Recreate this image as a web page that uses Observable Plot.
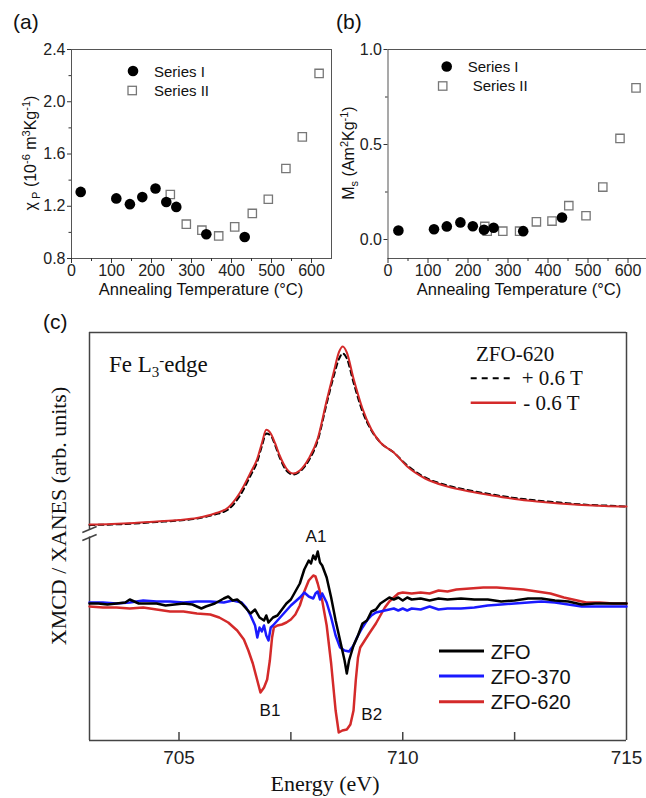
<!DOCTYPE html>
<html><head><meta charset="utf-8">
<script src="https://cdn.jsdelivr.net/npm/d3@7"></script>
<script src="https://cdn.jsdelivr.net/npm/@observablehq/plot@0.6"></script>
<style>
body{margin:0;background:#fff}
#fig{position:relative;width:646px;height:798px;overflow:hidden;background:#fff}
.panel{position:absolute}
#overlay{position:absolute;left:0;top:0;pointer-events:none}
</style></head><body>
<div id="fig">
 <div id="pa" class="panel" style="left:0;top:0;width:340px;height:300px"></div>
 <div id="pb" class="panel" style="left:320px;top:0;width:330px;height:300px"></div>
 <div id="pc" class="panel" style="left:0;top:310px;width:646px;height:488px"></div>
 <svg id="overlay" width="646" height="798" font-family="Liberation Sans, Arial, sans-serif" fill="#111">
  <!-- panel letters -->
  <text x="13" y="29" font-size="21">(a)</text>
  <text x="336" y="29" font-size="21">(b)</text>
  <text x="43" y="329" font-size="21">(c)</text>
  <!-- panel a labels -->
  <text transform="translate(36,153) rotate(-90)" text-anchor="middle" font-size="16">χ<tspan dy="4" font-size="11"> P</tspan><tspan dy="-4"> (10</tspan><tspan dy="-6" font-size="11">-6</tspan><tspan dy="6"> m</tspan><tspan dy="-6" font-size="11">3</tspan><tspan dy="6">Kg</tspan><tspan dy="-6" font-size="11">-1</tspan><tspan dy="6">)</tspan></text>
  <text x="201" y="295" text-anchor="middle" font-size="16.5">Annealing Temperature (°C)</text>
  <circle cx="133" cy="71" r="5.3" fill="#000"/>
  <text x="154" y="76.5" font-size="15">Series I</text>
  <rect x="128" y="86.3" width="8.4" height="8.4" fill="#fff" stroke="#777" stroke-width="1.3"/>
  <text x="154" y="95.5" font-size="15">Series II</text>
  <!-- panel b labels -->
  <text transform="translate(354,153) rotate(-90)" text-anchor="middle" font-size="16">M<tspan dy="4" font-size="11">s</tspan><tspan dy="-4"> (Am</tspan><tspan dy="-6" font-size="11">2</tspan><tspan dy="6">Kg</tspan><tspan dy="-6" font-size="11">-1</tspan><tspan dy="6">)</tspan></text>
  <text x="519" y="295" text-anchor="middle" font-size="16.5">Annealing Temperature (°C)</text>
  <circle cx="446.7" cy="66.5" r="5.3" fill="#000"/>
  <text x="467.7" y="71.7" font-size="15">Series I</text>
  <rect x="438.5" y="81.8" width="8.4" height="8.4" fill="#fff" stroke="#777" stroke-width="1.3"/>
  <text x="472.7" y="90.7" font-size="15">Series II</text>
  <!-- panel c texts -->
  <g font-family="Liberation Serif, Times New Roman, serif">
   <text x="109" y="371.7" font-size="23">Fe L<tspan dy="5" font-size="15">3</tspan><tspan dy="-12" font-size="15">-</tspan><tspan dy="7">edge</tspan></text>
   <text x="476" y="361" font-size="21">ZFO-620</text>
   <line x1="470.7" y1="378.3" x2="513.3" y2="378.3" stroke="#000" stroke-width="2" stroke-dasharray="6,5"/>
   <text x="521.7" y="385" font-size="21">+ 0.6 T</text>
   <line x1="470.7" y1="402.7" x2="516" y2="402.7" stroke="#d42a2a" stroke-width="2.5"/>
   <text x="523.3" y="410" font-size="21">- 0.6 T</text>
   <text transform="translate(66,516) rotate(-90)" text-anchor="middle" font-size="22">XMCD / XANES (arb. units)</text>
   <text x="325" y="791" text-anchor="middle" font-size="22">Energy (eV)</text>
  </g>
  <text x="316" y="541.5" text-anchor="middle" font-size="17">A1</text>
  <text x="270" y="715.7" text-anchor="middle" font-size="17">B1</text>
  <text x="371.7" y="720" text-anchor="middle" font-size="17">B2</text>
  <line x1="439" y1="651" x2="484" y2="651" stroke="#000" stroke-width="3"/>
  <text x="490.7" y="659" font-size="20">ZFO</text>
  <line x1="439" y1="676" x2="484" y2="676" stroke="#1a1aff" stroke-width="3"/>
  <text x="490.7" y="684" font-size="20">ZFO-370</text>
  <line x1="439" y1="701.7" x2="484" y2="701.7" stroke="#d42a2a" stroke-width="3"/>
  <text x="490.7" y="709" font-size="20">ZFO-620</text>
 </svg>
</div>
<script>
// ---------- Panel (a): paramagnetic susceptibility ----------
const tempI_a = [23, 112, 146, 177, 210, 237, 262, 337, 433];
const chiI = [1.31, 1.26, 1.216, 1.27, 1.336, 1.233, 1.195, 0.986, 0.965];
const tempII_a = [247, 287, 326, 368, 408, 452, 492, 536, 577, 619];
const chiII = [1.29, 1.063, 1.017, 0.973, 1.042, 1.145, 1.254, 1.489, 1.731, 2.217];
const ticksA = [0.8, 1.2, 1.6, 2.0, 2.4];
const minorA = [1.0, 1.4, 1.8, 2.2];

// ---------- Panel (b): saturation magnetization ----------
const tempI_b = [26, 115, 147, 181, 212, 240, 264, 338, 435];
const msI = [0.047, 0.054, 0.069, 0.09, 0.07, 0.051, 0.062, 0.044, 0.116];
const tempII_b = [242, 248, 287, 329, 371, 410, 452, 495, 537, 580, 620];
const msII = [0.069, 0.044, 0.044, 0.044, 0.093, 0.097, 0.178, 0.125, 0.276, 0.532, 0.798];
const ticksB = [0, 0.5, 1.0];
const minorB = [0.25, 0.75];

const tempTicks = [0, 100, 200, 300, 400, 500, 600];
const tempMinor = [50, 150, 250, 350, 450, 550];

// ---------- Panel (c): XANES (offset) and XMCD ----------
const xanesPlus = [[703.0,0.805],[703.5,0.81],[704.0,0.82],[704.5,0.835],[705.0,0.85],[705.4,0.87],[705.8,0.91],[706.1,0.96],[706.35,1.09],[706.6,1.30],[706.75,1.44],[706.85,1.59],[706.95,1.72],[707.05,1.70],[707.15,1.60],[707.25,1.48],[707.4,1.35],[707.55,1.31],[707.7,1.34],[707.9,1.45],[708.1,1.65],[708.3,2.02],[708.45,2.28],[708.58,2.47],[708.66,2.52],[708.75,2.47],[708.9,2.23],[709.1,1.94],[709.3,1.75],[709.5,1.63],[709.8,1.53],[710.1,1.40],[710.5,1.28],[711.0,1.20],[711.5,1.15],[712.0,1.11],[712.5,1.075],[713.0,1.05],[713.5,1.03],[714.0,1.01],[714.5,1.0],[715.0,0.99]];
const xanesMinus = [[703.0,0.81],[703.5,0.815],[704.0,0.825],[704.5,0.84],[705.0,0.855],[705.4,0.875],[705.8,0.92],[706.1,0.98],[706.35,1.12],[706.6,1.33],[706.75,1.47],[706.85,1.62],[706.95,1.757],[707.05,1.72],[707.15,1.62],[707.25,1.50],[707.4,1.37],[707.55,1.32],[707.7,1.35],[707.9,1.47],[708.1,1.67],[708.3,2.05],[708.45,2.32],[708.58,2.54],[708.66,2.59],[708.75,2.53],[708.9,2.27],[709.1,1.97],[709.3,1.76],[709.5,1.63],[709.8,1.53],[710.1,1.39],[710.5,1.27],[711.0,1.19],[711.5,1.14],[712.0,1.10],[712.5,1.065],[713.0,1.04],[713.5,1.02],[714.0,1.005],[714.5,0.995],[715.0,0.99]];
const zfo = [[703.0,0.02],[703.2,0.02],[703.4,0.01],[703.6,0.02],[703.8,0.03],[703.9,0.06],[704.0,0.04],[704.1,0.02],[704.3,0.02],[704.5,0.02],[704.7,0.0],[704.9,0.01],[705.1,0.02],[705.3,0.01],[705.5,-0.03],[705.6,-0.01],[705.8,0.02],[706.0,0.07],[706.1,0.09],[706.2,0.05],[706.3,0.06],[706.4,0.02],[706.5,-0.03],[706.6,-0.08],[706.7,-0.04],[706.8,-0.12],[706.9,-0.15],[706.95,-0.10],[707.0,-0.17],[707.1,-0.12],[707.2,-0.10],[707.3,-0.04],[707.4,0.02],[707.5,0.06],[707.6,0.14],[707.7,0.22],[707.8,0.36],[707.9,0.45],[707.95,0.42],[708.0,0.50],[708.05,0.46],[708.1,0.54],[708.15,0.43],[708.2,0.40],[708.3,0.28],[708.4,0.08],[708.5,-0.15],[708.6,-0.35],[708.7,-0.55],[708.75,-0.68],[708.8,-0.55],[708.9,-0.40],[709.0,-0.30],[709.1,-0.18],[709.2,-0.15],[709.3,-0.06],[709.4,-0.04],[709.5,0.02],[709.6,0.05],[709.7,0.08],[709.8,0.06],[709.9,0.08],[710.0,0.05],[710.1,0.08],[710.2,0.06],[710.4,0.07],[710.6,0.05],[710.8,0.07],[711.0,0.06],[711.3,0.07],[711.6,0.06],[711.9,0.06],[712.2,0.04],[712.5,0.05],[712.8,0.07],[713.1,0.07],[713.4,0.05],[713.7,0.04],[714.0,0.01],[714.3,0.02],[714.6,0.02],[715.0,0.02]];
const zfo370 = [[703.0,0.03],[703.3,0.03],[703.6,0.02],[703.9,0.03],[704.2,0.05],[704.5,0.04],[704.8,0.04],[705.1,0.03],[705.4,0.04],[705.7,0.04],[706.0,0.03],[706.2,0.05],[706.4,0.03],[706.5,-0.02],[706.6,-0.10],[706.7,-0.20],[706.75,-0.32],[706.8,-0.22],[706.85,-0.26],[706.9,-0.20],[706.95,-0.30],[707.0,-0.35],[707.05,-0.22],[707.1,-0.20],[707.2,-0.15],[707.3,-0.10],[707.4,-0.05],[707.5,0.0],[707.6,0.04],[707.7,0.08],[707.8,0.13],[707.9,0.09],[708.0,0.07],[708.05,0.12],[708.1,0.14],[708.15,0.06],[708.2,0.12],[708.3,0.03],[708.4,-0.12],[708.5,-0.30],[708.6,-0.42],[708.7,-0.45],[708.8,-0.46],[708.9,-0.40],[709.0,-0.30],[709.1,-0.22],[709.2,-0.15],[709.3,-0.10],[709.4,-0.07],[709.5,-0.06],[709.6,-0.05],[709.7,-0.04],[709.8,-0.03],[709.9,-0.05],[710.0,-0.03],[710.1,-0.05],[710.2,-0.03],[710.4,-0.04],[710.6,-0.01],[710.8,-0.04],[711.0,-0.03],[711.3,-0.03],[711.6,-0.02],[711.9,0.0],[712.2,0.01],[712.5,0.02],[712.8,0.03],[713.1,0.04],[713.4,0.03],[713.7,0.01],[714.0,-0.01],[714.3,-0.01],[714.6,-0.01],[715.0,-0.01]];
const zfo620 = [[703.0,-0.01],[703.3,-0.02],[703.6,-0.02],[703.9,-0.03],[704.2,-0.02],[704.5,-0.04],[704.8,-0.06],[705.1,-0.06],[705.4,-0.08],[705.7,-0.09],[705.9,-0.12],[706.1,-0.17],[706.3,-0.25],[706.45,-0.34],[706.55,-0.45],[706.65,-0.58],[706.75,-0.75],[706.82,-0.87],[706.9,-0.82],[706.97,-0.74],[707.03,-0.55],[707.08,-0.32],[707.12,-0.22],[707.2,-0.20],[707.3,-0.19],[707.4,-0.17],[707.5,-0.14],[707.6,-0.09],[707.7,0.0],[707.8,0.14],[707.9,0.25],[708.0,0.30],[708.05,0.29],[708.1,0.22],[708.2,0.05],[708.3,-0.20],[708.4,-0.58],[708.5,-1.05],[708.57,-1.27],[708.65,-1.25],[708.75,-1.24],[708.83,-1.19],[708.9,-1.05],[708.95,-0.75],[709.0,-0.52],[709.05,-0.42],[709.15,-0.35],[709.25,-0.28],[709.4,-0.18],[709.5,-0.10],[709.6,-0.02],[709.7,0.04],[709.8,0.08],[709.9,0.12],[710.0,0.13],[710.2,0.12],[710.4,0.13],[710.6,0.12],[710.8,0.15],[711.0,0.14],[711.2,0.16],[711.5,0.17],[711.8,0.18],[712.1,0.18],[712.4,0.17],[712.7,0.16],[713.0,0.14],[713.3,0.12],[713.6,0.08],[713.9,0.05],[714.1,0.03],[714.4,0.03],[714.7,0.02],[715.0,0.02]];
const energyTicks = [705, 710, 715];
const energyMinor = [705, 707.5, 710, 712.5];

const RED = "#d42a2a", BLUE = "#1a1aff";
const sans = "Liberation Sans, Arial, sans-serif";

function tempPanel(opts) {
  const I = opts.tI.map((t, i) => ({t, v: opts.vI[i]}));
  const II = opts.tII.map((t, i) => ({t, v: opts.vII[i]}));
  return Plot.plot({
    width: opts.width, height: 300,
    marginLeft: opts.ml, marginRight: opts.mr, marginTop: 49, marginBottom: 42,
    x: {domain: [0, 650]},
    y: {domain: opts.ydomain},
    style: {fontFamily: sans, fontSize: "16px", color: "#333", background: "transparent", maxWidth: "none", overflow: "visible"},
    marks: [
      Plot.frame({stroke: "#555", strokeWidth: 1}),
      Plot.axisX({ticks: tempTicks, tickSize: 5, tickPadding: 1, label: null, tickFormat: d => String(d), fill: "#222"}),
      Plot.axisX({ticks: tempMinor, tickSize: 3, label: null, tickFormat: () => ""}),
      Plot.axisY({ticks: opts.yticks, tickSize: 4, tickPadding: 2, label: null, tickFormat: d3.format(".1f"), fill: "#222"}),
      Plot.axisY({ticks: opts.yminor, tickSize: 2.5, label: null, tickFormat: () => ""}),
      Plot.dot(II, {x: "t", y: "v", symbol: "square", r: 4.7, stroke: "#777", strokeWidth: 1.3, fill: "white"}),
      Plot.dot(I, {x: "t", y: "v", r: 5.3, fill: "#000"})
    ]
  });
}

document.getElementById("pa").append(tempPanel({
  tI: tempI_a, vI: chiI, tII: tempII_a, vII: chiII,
  width: 340, ml: 71, mr: 9, ydomain: [0.8, 2.4], yticks: ticksA, yminor: minorA
}));
document.getElementById("pb").append(tempPanel({
  tI: tempI_b, vI: msI, tII: tempII_b, vII: msII,
  width: 330, ml: 67.5, mr: 2.5, ydomain: [-0.1, 1.0], yticks: ticksB, yminor: minorB
}));

const yLo = -1.35, yHi = 2.73, xLo = 703, xHi = 715;
const xy = {x: d => d[0], y: d => d[1]};
const pc = Plot.plot({
  width: 646, height: 488,
  marginLeft: 89, marginRight: 20, marginTop: 22, marginBottom: 58,
  x: {domain: [xLo, xHi]},
  y: {domain: [yLo, yHi], axis: null},
  style: {fontFamily: sans, fontSize: "19px", color: "#222", background: "transparent", maxWidth: "none", overflow: "visible"},
  marks: [
    Plot.ruleY([yHi], {stroke: "#444", strokeWidth: 1.5}),
    Plot.ruleY([yLo], {stroke: "#444", strokeWidth: 1.5}),
    Plot.ruleX([xHi], {stroke: "#444", strokeWidth: 1.5}),
    Plot.ruleX([xLo], {y1: yLo, y2: 0.685, stroke: "#444", strokeWidth: 1.5}),
    Plot.ruleX([xLo], {y1: 0.755, y2: yHi, stroke: "#444", strokeWidth: 1.5}),
    Plot.link([{a: 0.65, b: 0.71}, {a: 0.73, b: 0.79}], {x1: 702.84, x2: 703.16, y1: "a", y2: "b", stroke: "#444", strokeWidth: 1.5}),
    Plot.ruleX(energyMinor, {y1: yLo, y2: yLo + 0.08, stroke: "#444", strokeWidth: 1.5}),
    Plot.axisX({ticks: energyTicks, tickSize: 0, tickPadding: 10, label: null, tickFormat: d => String(d)}),
    Plot.line(xanesPlus, {...xy, stroke: "#000", strokeWidth: 2, strokeDasharray: "5,4", curve: "monotone-x"}),
    Plot.line(xanesMinus, {...xy, stroke: RED, strokeWidth: 2, curve: "monotone-x"}),
    Plot.line(zfo620, {...xy, stroke: RED, strokeWidth: 2.5}),
    Plot.line(zfo370, {...xy, stroke: BLUE, strokeWidth: 2.5}),
    Plot.line(zfo, {...xy, stroke: "#000", strokeWidth: 2.5})
  ]
});
document.getElementById("pc").append(pc);
</script>
</body></html>
